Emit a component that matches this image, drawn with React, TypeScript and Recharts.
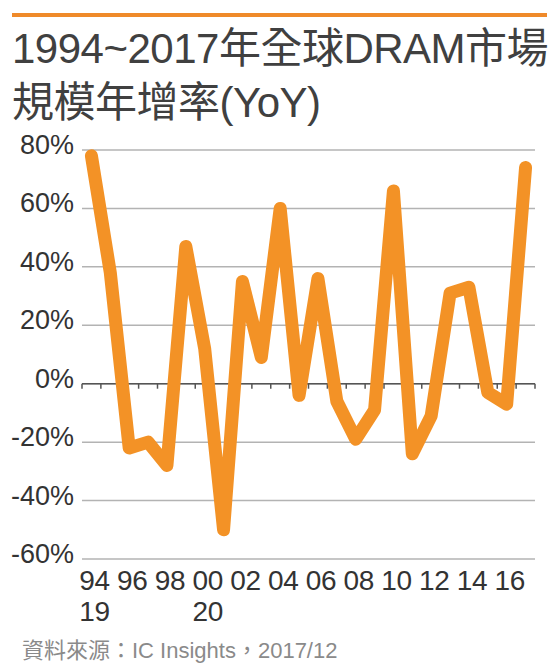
import React from 'react';
import { LineChart, Line, XAxis, YAxis, CartesianGrid, ReferenceLine } from 'recharts';

// 1994~2017 global DRAM market YoY growth (%)
const years = [
  1994, 1995, 1996, 1997, 1998, 1999, 2000, 2001, 2002, 2003, 2004, 2005,
  2006, 2007, 2008, 2009, 2010, 2011, 2012, 2013, 2014, 2015, 2016, 2017,
];
const yoy = [
  78, 38, -22, -20, -28, 47, 12, -50, 35, 9, 60, -4,
  36, -6, -19, -9, 66, -24, -11, 31, 33, -3, -7, 74,
];
const yTicks = [-60, -40, -20, 0, 20, 40, 60, 80];
const xTicks = [1994, 1996, 1998, 2000, 2002, 2004, 2006, 2008, 2010, 2012, 2014, 2016];
// century prefix printed under some of the year labels
const centuryMarks: Record<number, string> = { 1994: '19', 2000: '20' };

const titleLines = ['1994~2017年全球DRAM市場', '規模年增率(YoY)'];
const source = '資料來源：IC Insights，2017/12';

const FONT = '"Liberation Sans", Arial, "Noto Sans CJK TC", sans-serif';
const ORANGE = '#f39226';

const data = years.map((year, i) => ({ year, yoy: yoy[i] }));

const YTick = (props: any) => {
  const { x, y, payload } = props;
  return (
    <text x={x} y={y + 4} textAnchor="end" fontSize={27} fill="#333" fontFamily={FONT}>
      {payload.value}%
    </text>
  );
};

const XTick = (props: any) => {
  const { x, y, payload } = props;
  const yr = payload.value as number;
  const prefix = centuryMarks[yr];
  return (
    <g>
      <text x={x + 3} y={y + 31} textAnchor="middle" fontSize={28} fill="#333" fontFamily={FONT} letterSpacing={-0.5}>
        {String(yr).slice(2)}
      </text>
      {prefix && (
        <text x={x + 3} y={y + 62} textAnchor="middle" fontSize={28} fill="#333" fontFamily={FONT} letterSpacing={-0.5}>
          {prefix}
        </text>
      )}
    </g>
  );
};

// zero line with small tick marks at each year boundary
const ZeroLine = (props: any) => {
  const { x1, y1, x2 } = props;
  if (x1 == null || y1 == null || x2 == null) return null;
  const step = (x2 - x1) / years.length;
  return (
    <g>
      <line x1={x1} y1={y1} x2={x2} y2={y1} stroke="#555" strokeWidth={1.5} />
      {Array.from({ length: years.length + 1 }, (_, i) => (
        <line key={i} x1={x1 + i * step} y1={y1} x2={x1 + i * step} y2={y1 + 5} stroke="#555" strokeWidth={1.5} />
      ))}
    </g>
  );
};

export default function App() {
  return (
    <div style={{ position: 'absolute', left: 0, top: 0, width: 555, height: 664, background: '#fff' }}>
      <svg width={555} height={664} style={{ position: 'absolute', left: 0, top: 0 }}>
        <rect x={12} y={13} width={535} height={4} fill="#ef8a2a" />
        <text x={12} y={63} fontSize={42} fill="#404040" fontFamily={FONT} letterSpacing={-0.5}>
          {titleLines[0]}
        </text>
        <text x={12} y={117} fontSize={42} fill="#404040" fontFamily={FONT} letterSpacing={-0.5}>
          {titleLines[1]}
        </text>
        <text x={22} y={658} fontSize={22} fill="#8a8a8a" fontFamily={FONT}>
          {source}
        </text>
      </svg>
      <div style={{ position: 'absolute', left: 0, top: 0 }}>
        <LineChart width={555} height={664} data={data} margin={{ top: 150, right: 20, bottom: 0, left: 0 }}>
          <CartesianGrid horizontal vertical={false} stroke="#b3b3b3" strokeWidth={1.5} />
          <XAxis
            dataKey="year"
            type="number"
            domain={[1993.5, 2017.5]}
            ticks={xTicks}
            interval={0}
            axisLine={false}
            tickLine={false}
            tickSize={0}
            tickMargin={0}
            height={105}
            tick={<XTick />}
          />
          <YAxis
            domain={[-60, 80]}
            ticks={yTicks}
            interval={0}
            width={82}
            axisLine={false}
            tickLine={false}
            tickSize={0}
            tickMargin={8}
            tick={<YTick />}
          />
          <ReferenceLine y={0} shape={<ZeroLine />} />
          <Line
            type="linear"
            dataKey="yoy"
            stroke={ORANGE}
            strokeWidth={13}
            strokeLinejoin="round"
            strokeLinecap="round"
            dot={false}
            activeDot={false}
            isAnimationActive={false}
          />
        </LineChart>
      </div>
    </div>
  );
}
